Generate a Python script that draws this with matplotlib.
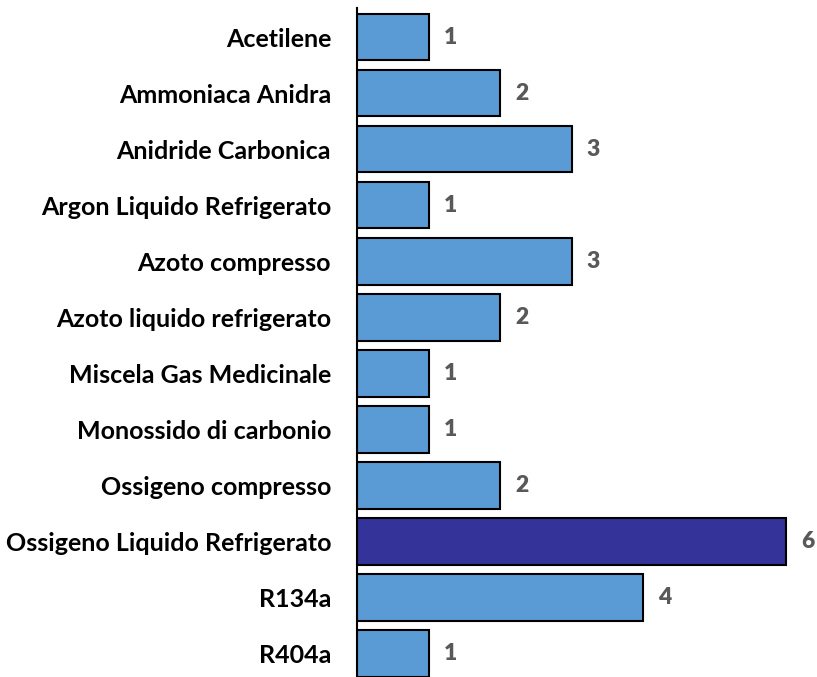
import matplotlib
matplotlib.use("Agg")
import matplotlib.pyplot as plt

categories = [
    "Acetilene",
    "Ammoniaca Anidra",
    "Anidride Carbonica",
    "Argon Liquido Refrigerato",
    "Azoto compresso",
    "Azoto liquido refrigerato",
    "Miscela Gas Medicinale",
    "Monossido di carbonio",
    "Ossigeno compresso",
    "Ossigeno Liquido Refrigerato",
    "R134a",
    "R404a",
]
values = [1, 2, 3, 1, 3, 2, 1, 1, 2, 6, 4, 1]
highlight = "Ossigeno Liquido Refrigerato"

plt.rcParams["font.family"] = ["Lato", "DejaVu Sans"]

fig = plt.figure(figsize=(8.17, 6.77), dpi=100)
ax = fig.add_axes([357 / 817, 0, 1 - 357 / 817, 669 / 677])

colors = ["#333399" if c == highlight else "#5B9BD5" for c in categories]
ypos = list(range(len(categories)))
ax.barh(ypos, values, height=0.83, color=colors, edgecolor="black", linewidth=1.5)

# etiquetas de valor a la derecha de cada barra
for y, v in zip(ypos, values):
    ax.text(v + 0.21, y, str(v), va="center", ha="left",
            fontsize=16.5, fontweight="heavy", color="#595959")

ax.set_yticks(ypos)
ax.set_yticklabels(categories, fontsize=18, fontweight="bold")
ax.tick_params(axis="y", length=0, pad=18.7)
ax.set_xticks([])
ax.set_xlim(0, 6.43)
ax.set_ylim(11.42, -0.52)

for side in ["top", "right", "bottom"]:
    ax.spines[side].set_visible(False)
ax.spines["left"].set_linewidth(1.5)
ax.spines["left"].set_color("black")

fig.savefig("out.png", dpi=100)
